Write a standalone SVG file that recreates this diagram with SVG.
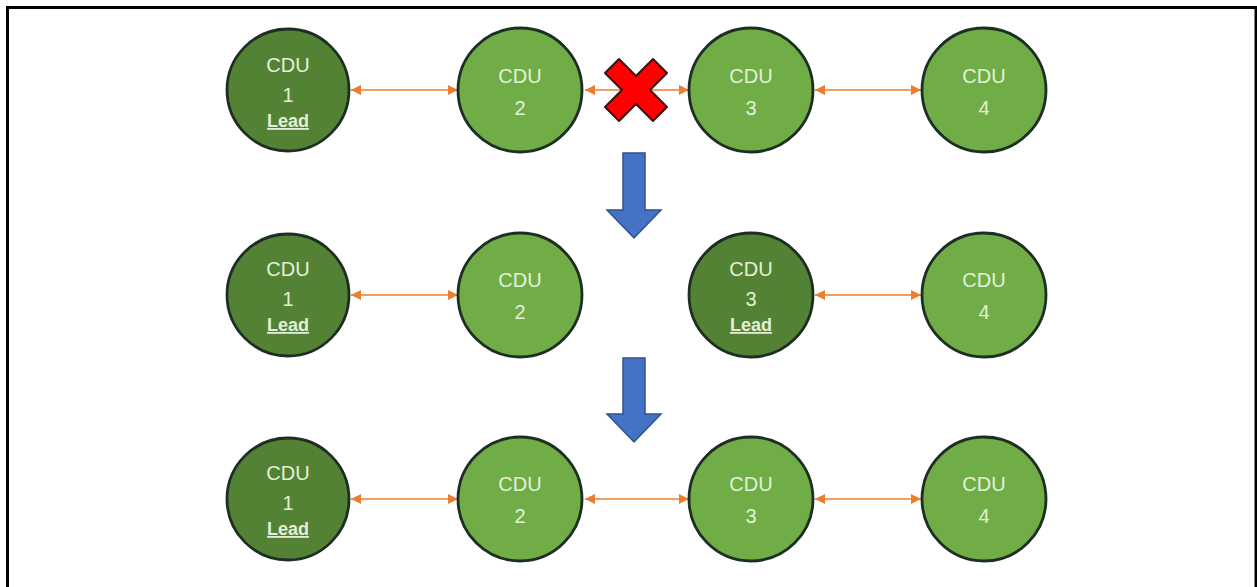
<svg xmlns="http://www.w3.org/2000/svg" width="1257" height="587" viewBox="0 0 1257 587">
<defs>
<marker id="ah" viewBox="0 0 10 10" refX="10" refY="5" markerWidth="10" markerHeight="10" orient="auto-start-reverse" markerUnits="userSpaceOnUse">
<path d="M0,0 L10,5 L0,10 Z" fill="#ED7D31"/>
</marker>
<style>
.lead circle{fill:#548235;stroke:#1d2e22;stroke-width:2.8}
.node circle{fill:#70AD47;stroke:#1d2e22;stroke-width:2.8}
text{font-family:"Liberation Sans",Arial,sans-serif;fill:#E2F0D9;text-anchor:middle}
.t{font-size:20px}
.l{font-size:18px;font-weight:bold;text-decoration:underline}
.c{stroke:#ED7D31;stroke-width:1.6;fill:none;marker-start:url(#ah);marker-end:url(#ah)}
.down{fill:#4472C4;stroke:#2F528F;stroke-width:1.5}
</style>
</defs>
<rect width="1257" height="587" fill="#ffffff"/>
<path d="M7.5,587 V7.5 H1256 V587" fill="none" stroke="#000" stroke-width="3"/>

<g id="connectors">
<line class="c" x1="351" y1="90" x2="458" y2="90"/>
<line class="c" x1="585" y1="90" x2="689" y2="90"/>
<line class="c" x1="815" y1="90" x2="921" y2="90"/>
<line class="c" x1="351" y1="295" x2="458" y2="295"/>
<line class="c" x1="815" y1="295" x2="921" y2="295"/>
<line class="c" x1="351" y1="499" x2="458" y2="499"/>
<line class="c" x1="585" y1="499" x2="689" y2="499"/>
<line class="c" x1="815" y1="499" x2="921" y2="499"/>
</g>

<g id="fail-x">
<path d="M636,90 m-31,-17 l14,-14 l17,17 l17,-17 l14,14 l-17,17 l17,17 l-14,14 l-17,-17 l-17,17 l-14,-14 l17,-17 z" fill="#FF0000" stroke="#3a1010" stroke-width="2" stroke-linejoin="round"/>
</g>

<g id="down-arrow-1">
<path class="down" d="M623,153 H645 V210 H661 L634,238 L607,210 H623 Z"/>
</g>
<g id="down-arrow-2">
<path class="down" d="M623,358 H645 V414 H661 L634,442 L607,414 H623 Z"/>
</g>

<g id="r1-cdu1" class="lead"><circle cx="288" cy="90" r="61"/><text class="t" x="288" y="72">CDU</text><text class="t" x="288" y="102">1</text><text class="l" x="288" y="127">Lead</text></g>
<g id="r1-cdu2" class="node"><circle cx="520" cy="90" r="62"/><text class="t" x="520" y="83">CDU</text><text class="t" x="520" y="115">2</text></g>
<g id="r1-cdu3" class="node"><circle cx="751" cy="90" r="62"/><text class="t" x="751" y="83">CDU</text><text class="t" x="751" y="115">3</text></g>
<g id="r1-cdu4" class="node"><circle cx="984" cy="90" r="62"/><text class="t" x="984" y="83">CDU</text><text class="t" x="984" y="115">4</text></g>

<g id="r2-cdu1" class="lead"><circle cx="288" cy="295" r="61"/><text class="t" x="288" y="276">CDU</text><text class="t" x="288" y="306">1</text><text class="l" x="288" y="331">Lead</text></g>
<g id="r2-cdu2" class="node"><circle cx="520" cy="295" r="62"/><text class="t" x="520" y="287">CDU</text><text class="t" x="520" y="319">2</text></g>
<g id="r2-cdu3" class="lead"><circle cx="751" cy="295" r="62"/><text class="t" x="751" y="276">CDU</text><text class="t" x="751" y="306">3</text><text class="l" x="751" y="331">Lead</text></g>
<g id="r2-cdu4" class="node"><circle cx="984" cy="295" r="62"/><text class="t" x="984" y="287">CDU</text><text class="t" x="984" y="319">4</text></g>

<g id="r3-cdu1" class="lead"><circle cx="288" cy="499" r="61"/><text class="t" x="288" y="480">CDU</text><text class="t" x="288" y="510">1</text><text class="l" x="288" y="535">Lead</text></g>
<g id="r3-cdu2" class="node"><circle cx="520" cy="499" r="62"/><text class="t" x="520" y="491">CDU</text><text class="t" x="520" y="523">2</text></g>
<g id="r3-cdu3" class="node"><circle cx="751" cy="499" r="62"/><text class="t" x="751" y="491">CDU</text><text class="t" x="751" y="523">3</text></g>
<g id="r3-cdu4" class="node"><circle cx="984" cy="499" r="62"/><text class="t" x="984" y="491">CDU</text><text class="t" x="984" y="523">4</text></g>
</svg>
